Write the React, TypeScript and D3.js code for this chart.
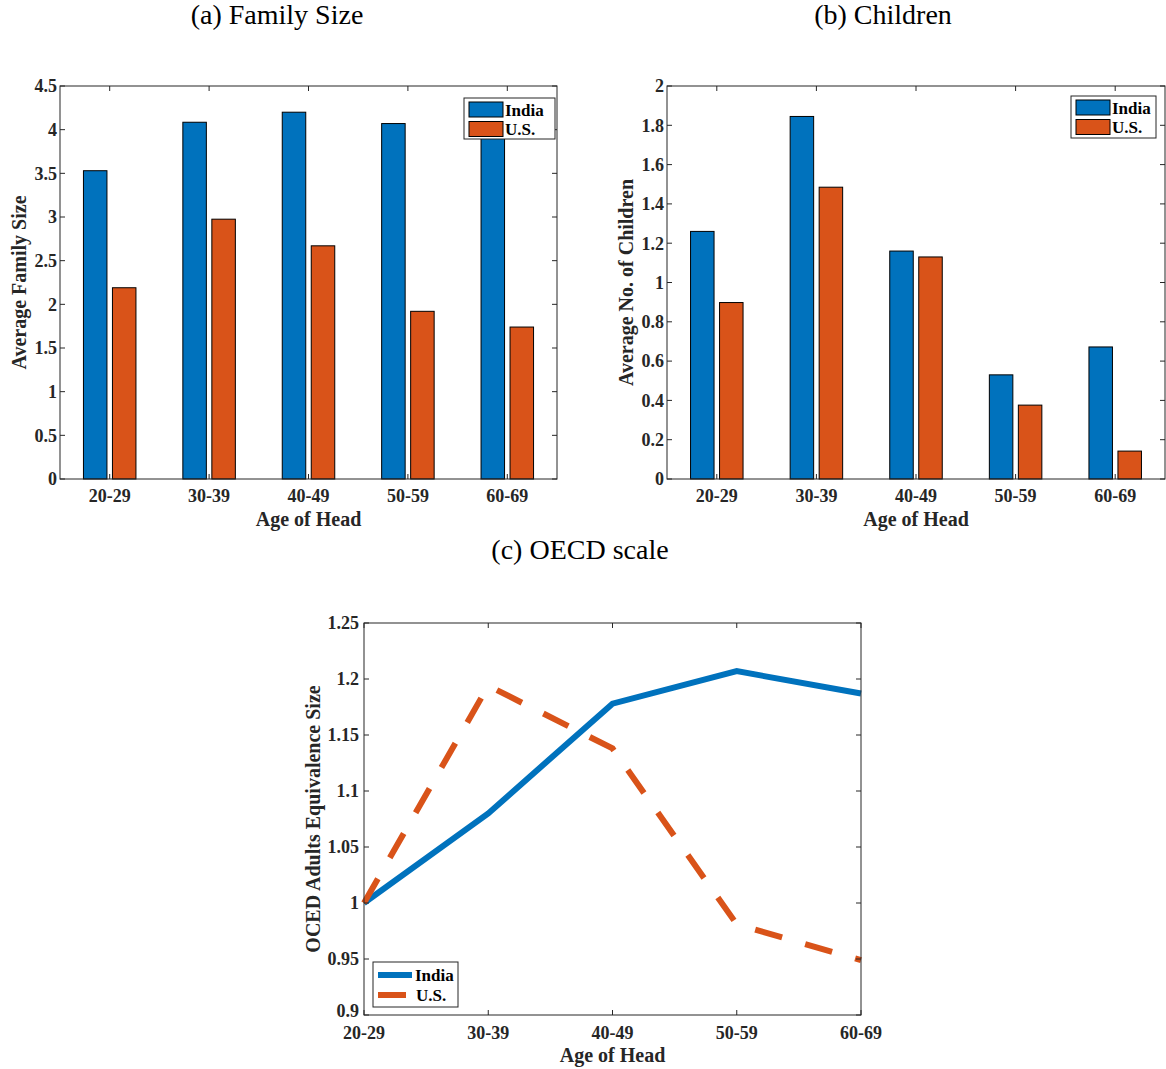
import React from "react";
import * as d3 from "d3";

const ageGroups = ["20-29", "30-39", "40-49", "50-59", "60-69"];
const seriesNames = ["India", "U.S."];

const familyIndia = [3.53, 4.085, 4.2, 4.07, 4.0];
const familyUS = [2.19, 2.975, 2.67, 1.92, 1.74];
const familyTicks = [0, 0.5, 1, 1.5, 2, 2.5, 3, 3.5, 4, 4.5];

const childrenIndia = [1.26, 1.845, 1.16, 0.53, 0.672];
const childrenUS = [0.898, 1.485, 1.13, 0.376, 0.142];
const childrenTicks = [0, 0.2, 0.4, 0.6, 0.8, 1, 1.2, 1.4, 1.6, 1.8, 2];

const oecdIndia = [1.0, 1.08, 1.178, 1.207, 1.187];
const oecdUS = [1.0, 1.194, 1.138, 0.981, 0.949];
const oecdTicks = [0.9, 0.95, 1, 1.05, 1.1, 1.15, 1.2, 1.25];

const BLUE = "#0072BD";
const ORANGE = "#D95319";
const AXIS = "#262626";
const FONT = "'Liberation Serif', 'Times New Roman', serif";
const TICK_FS = 18;
const LABEL_FS = 20;
const LEG_FS = 17;

type BarProps = {
  x0: number;
  x1: number;
  y0: number;
  y1: number;
  india: number[];
  us: number[];
  ticks: number[];
  yMax: number;
  title: string;
  titleX: number;
  yLabel: string;
  legend: { x: number; y: number; w: number; h: number };
};

const BarPanel = ({ x0, x1, y0, y1, india, us, ticks, yMax, title, titleX, yLabel, legend }: BarProps) => {
  const x = d3.scaleLinear().domain([0.5, 5.5]).range([x0, x1]);
  const y = d3.scaleLinear().domain([0, yMax]).range([y1, y0]);
  const bw = 23.5;
  const off = 14.5;
  const series = [india, us];
  const colors = [BLUE, ORANGE];
  return (
    <g>
      <text x={titleX} y={24} textAnchor="middle" fontSize={28} fontFamily={FONT}>
        {title}
      </text>
      {series.map((vals, s) =>
        vals.map((v, i) => (
          <rect
            key={`${s}-${i}`}
            x={x(i + 1) + (s === 0 ? -off : off) - bw / 2}
            y={y(v)}
            width={bw}
            height={y(0) - y(v)}
            fill={colors[s]}
            stroke="#000"
            strokeWidth={1}
          />
        ))
      )}
      <rect x={x0} y={y0} width={x1 - x0} height={y1 - y0} fill="none" stroke={AXIS} strokeWidth={1} />
      {ticks.map((t) => (
        <g key={t}>
          <line x1={x0} x2={x0 + 5} y1={y(t)} y2={y(t)} stroke={AXIS} />
          <line x1={x1} x2={x1 - 5} y1={y(t)} y2={y(t)} stroke={AXIS} />
          <text
            x={x0 - 3}
            y={y(t)}
            dy="0.35em"
            textAnchor="end"
            fontSize={TICK_FS}
            fontWeight="bold"
            fontFamily={FONT}
            fill={AXIS}
          >
            {t}
          </text>
        </g>
      ))}
      {ageGroups.map((g, i) => (
        <g key={g}>
          <line x1={x(i + 1)} x2={x(i + 1)} y1={y1} y2={y1 - 5} stroke={AXIS} />
          <line x1={x(i + 1)} x2={x(i + 1)} y1={y0} y2={y0 + 5} stroke={AXIS} />
          <text
            x={x(i + 1)}
            y={y1 + 23}
            textAnchor="middle"
            fontSize={TICK_FS}
            fontWeight="bold"
            fontFamily={FONT}
            fill={AXIS}
          >
            {g}
          </text>
        </g>
      ))}
      <text
        x={(x0 + x1) / 2}
        y={y1 + 47}
        textAnchor="middle"
        fontSize={LABEL_FS}
        fontWeight="bold"
        fontFamily={FONT}
        fill={AXIS}
      >
        Age of Head
      </text>
      <text
        transform={`translate(${x0 - 34},${(y0 + y1) / 2}) rotate(-90)`}
        textAnchor="middle"
        fontSize={LABEL_FS}
        fontWeight="bold"
        fontFamily={FONT}
        fill={AXIS}
      >
        {yLabel}
      </text>
      <g transform={`translate(${legend.x},${legend.y})`}>
        <rect width={legend.w} height={legend.h} fill="#fff" stroke={AXIS} strokeWidth={1} />
        {seriesNames.map((n, i) => (
          <g key={n}>
            <rect x={5} y={4 + i * 19.5} width={34} height={15} fill={colors[i]} stroke="#000" />
            <text x={41} y={4 + i * 19.5 + 13.5} fontSize={LEG_FS} fontWeight="bold" fontFamily={FONT} fill="#000">
              {n}
            </text>
          </g>
        ))}
      </g>
    </g>
  );
};

const LinePanel = () => {
  const x0 = 364;
  const x1 = 861;
  const y0 = 623;
  const y1 = 1015;
  const x = d3.scaleLinear().domain([0, 4]).range([x0, x1]);
  const y = d3.scaleLinear().domain([0.9, 1.25]).range([y1, y0]);
  const line = d3
    .line<number>()
    .x((_, i) => x(i))
    .y((d) => y(d));
  return (
    <g>
      <text x={580} y={559} textAnchor="middle" fontSize={28} fontFamily={FONT}>
        (c) OECD scale
      </text>
      <path d={line(oecdIndia) ?? ""} fill="none" stroke={BLUE} strokeWidth={6} />
      <path
        d={line(oecdUS) ?? ""}
        fill="none"
        stroke={ORANGE}
        strokeWidth={6}
        strokeDasharray="28,24"
      />
      <rect x={x0} y={y0} width={x1 - x0} height={y1 - y0} fill="none" stroke={AXIS} strokeWidth={1} />
      {oecdTicks.map((t, i) => (
        <g key={t}>
          <line x1={x0} x2={x0 + 5} y1={y(t)} y2={y(t)} stroke={AXIS} />
          <line x1={x1} x2={x1 - 5} y1={y(t)} y2={y(t)} stroke={AXIS} />
          <text
            x={x0 - 5}
            y={y(t) - (i === 0 ? 4 : 0)}
            dy="0.35em"
            textAnchor="end"
            fontSize={TICK_FS}
            fontWeight="bold"
            fontFamily={FONT}
            fill={AXIS}
          >
            {t}
          </text>
        </g>
      ))}
      {ageGroups.map((g, i) => (
        <g key={g}>
          <line x1={x(i)} x2={x(i)} y1={y1} y2={y1 - 5} stroke={AXIS} />
          <line x1={x(i)} x2={x(i)} y1={y0} y2={y0 + 5} stroke={AXIS} />
          <text
            x={x(i)}
            y={y1 + 24}
            textAnchor="middle"
            fontSize={TICK_FS}
            fontWeight="bold"
            fontFamily={FONT}
            fill={AXIS}
          >
            {g}
          </text>
        </g>
      ))}
      <text
        x={(x0 + x1) / 2}
        y={y1 + 47}
        textAnchor="middle"
        fontSize={LABEL_FS}
        fontWeight="bold"
        fontFamily={FONT}
        fill={AXIS}
      >
        Age of Head
      </text>
      <text
        transform={`translate(${x0 - 44},${(y0 + y1) / 2}) rotate(-90)`}
        textAnchor="middle"
        fontSize={LABEL_FS}
        fontWeight="bold"
        fontFamily={FONT}
        fill={AXIS}
      >
        OCED Adults Equivalence Size
      </text>
      <g transform="translate(373,962)">
        <rect width={85} height={45} fill="#fff" stroke={AXIS} strokeWidth={1} />
        {seriesNames.map((n, i) => (
          <g key={n}>
            <line
              x1={5}
              x2={39}
              y1={13 + i * 20}
              y2={13 + i * 20}
              stroke={i === 0 ? BLUE : ORANGE}
              strokeWidth={6}
              strokeDasharray={i === 0 ? undefined : "28,24"}
            />
            <text x={i === 0 ? 42 : 43} y={18.5 + i * 20} fontSize={LEG_FS} fontWeight="bold" fontFamily={FONT} fill="#000">
              {n}
            </text>
          </g>
        ))}
      </g>
    </g>
  );
};

const App = () => {
  return (
    <svg width={1166} height={1069} style={{ position: "absolute", left: 0, top: 0, background: "#fff" }}>
      <BarPanel
        x0={60}
        x1={557}
        y0={86}
        y1={479}
        india={familyIndia}
        us={familyUS}
        ticks={familyTicks}
        yMax={4.5}
        title="(a) Family Size"
        titleX={277}
        yLabel="Average Family Size"
        legend={{ x: 464, y: 98, w: 91, h: 41 }}
      />
      <BarPanel
        x0={667}
        x1={1165}
        y0={86}
        y1={479}
        india={childrenIndia}
        us={childrenUS}
        ticks={childrenTicks}
        yMax={2}
        title="(b) Children"
        titleX={883}
        yLabel="Average No. of Children"
        legend={{ x: 1071, y: 96, w: 85, h: 42 }}
      />
      <LinePanel />
    </svg>
  );
};

export default App;
